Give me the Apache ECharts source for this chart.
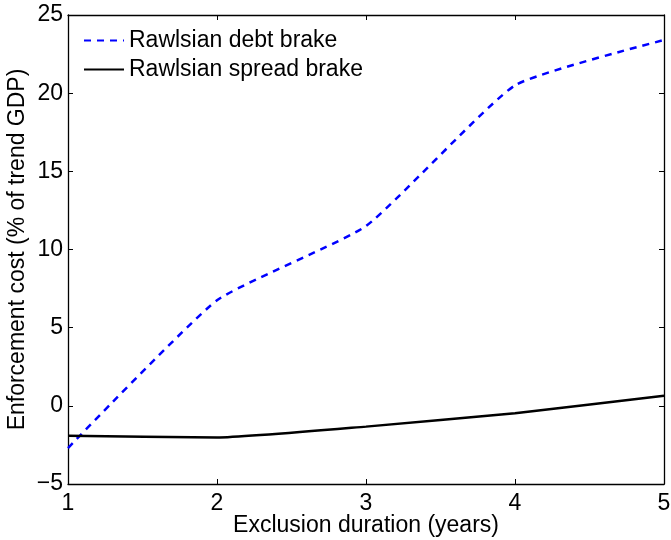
<!DOCTYPE html>
<html>
<head>
<meta charset="utf-8">
<script src="https://cdn.jsdelivr.net/npm/echarts@6/dist/echarts.min.js"></script>
<style>html,body{margin:0;padding:0;background:#fff}#c{width:671px;height:540px}</style>
</head>
<body>
<div id="c"></div>
<script>
var durations = [1, 2, 3, 4, 5];
var debtBrake = [-2.7, 6.75, 11.5, 20.5, 23.4];
var spreadBrake = [-1.92, -2.03, -1.33, -0.47, 0.65];
var seriesNames = ['Rawlsian debt brake', 'Rawlsian spread brake'];
var xTitle = 'Exclusion duration (years)';
var yTitle = 'Enforcement cost (% of trend GDP)';

var FONT = 'Liberation Sans, Arial, sans-serif';
var FS = 23;
function pairs(xs, ys){ return xs.map(function(x,i){return [x, ys[i]];}); }
function minus(v){ return String(v).replace('-', '\u2212'); }

var chart = echarts.init(document.getElementById('c'), null, {renderer:'canvas'});
var axisLine = {show:true, onZero:false, lineStyle:{color:'#000', width:1.3}};
var tick = {show:true, inside:true, length:5, lineStyle:{color:'#000', width:1}};
chart.setOption({
  animation:false,
  backgroundColor:'#fff',
  grid:{left:68, right:7, top:15, bottom:56, containLabel:false, outerBoundsMode:'none'},
  legend:{
    show:true, orient:'vertical', left:83, top:29, padding:0, itemWidth:40, itemHeight:20, itemGap:6,
    itemStyle:{opacity:0},
    textStyle:{fontFamily:FONT, fontSize:FS, color:'#000'},
    data:[seriesNames[0], seriesNames[1]]
  },
  xAxis:[{
    type:'value', min:1, max:5, interval:1, position:'bottom',
    axisLine:axisLine, axisTick:tick, splitLine:{show:false},
    axisLabel:{fontFamily:FONT, fontSize:FS, color:'#000', margin:8},
    name:xTitle, nameLocation:'middle', nameGap:30, nameMoveOverlap:false,
    nameTextStyle:{fontFamily:FONT, fontSize:FS, color:'#000'}
  },{
    type:'value', min:1, max:5, interval:1, position:'top',
    axisLine:axisLine, axisTick:tick, axisLabel:{show:false}, splitLine:{show:false}
  }],
  yAxis:[{
    type:'value', min:-5, max:25, interval:5, position:'left',
    axisLine:axisLine, axisTick:tick, splitLine:{show:false},
    axisLabel:{fontFamily:FONT, fontSize:FS, color:'#000', margin:5, formatter:minus},
    name:yTitle, nameLocation:'middle', nameGap:39, nameRotate:90, nameMoveOverlap:false,
    nameTextStyle:{fontFamily:FONT, fontSize:FS, color:'#000'}
  },{
    type:'value', min:-5, max:25, interval:5, position:'right',
    axisLine:axisLine, axisTick:tick, axisLabel:{show:false}, splitLine:{show:false}
  }],
  series:[{
    name:seriesNames[0], type:'line', data:pairs(durations, debtBrake),
    symbol:'none', smooth:0.15,
    lineStyle:{color:'#0000ff', width:2.5, type:[7,6]}, itemStyle:{color:'#0000ff'}
  },{
    name:seriesNames[1], type:'line', data:pairs(durations, spreadBrake),
    symbol:'none', smooth:0.15,
    lineStyle:{color:'#000', width:2.5, type:'solid'}, itemStyle:{color:'#000'}
  }]
});
</script>
</body>
</html>
